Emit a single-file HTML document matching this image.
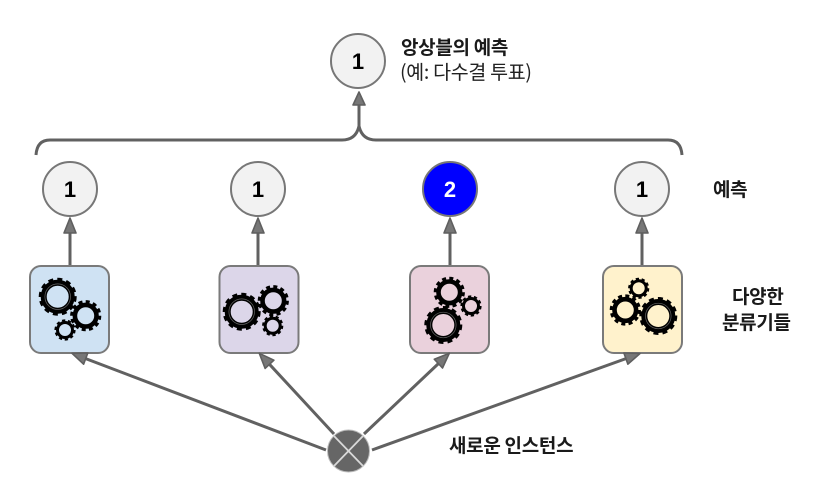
<!DOCTYPE html>
<html><head><meta charset="utf-8"><style>
html,body{margin:0;padding:0;background:#fff}
svg{display:block}
text{font-family:"Liberation Sans","Noto Sans CJK KR",sans-serif}
.k{font-family:"Noto Sans CJK KR","Liberation Sans",sans-serif;font-weight:700;font-size:19px;fill:#1a1a1a;letter-spacing:-.3px}
.n{font-weight:700;font-size:22px;text-anchor:middle;fill:#000}
.c{fill:#f2f2f2;stroke:#777;stroke-width:2}
.b{stroke:#7a7a7a;stroke-width:2}
.l{stroke:#616161;stroke-width:3;fill:none}
.h{fill:#777;stroke:#5f5f5f;stroke-width:1.6;stroke-linejoin:round}
.g1 .t{fill:none;stroke:#000;stroke-width:5.6}
.r{fill:none;stroke:#000}
</style></head><body>
<svg width="816" height="496" viewBox="0 0 816 496" xmlns="http://www.w3.org/2000/svg">
<defs>
<g id="gb" class="g1"><circle class="t" r="16.2" pathLength="24" stroke-dasharray="1.1 .9"/><circle class="r" r="14" stroke-width="6"/><circle r="12.8" fill="none" stroke="#666" stroke-width=".7"/></g>
<g id="gm" class="g1"><circle class="t" r="12.8" pathLength="24" stroke-dasharray="1.1 .9"/><circle class="r" r="10.8" stroke-width="4.6"/></g>
<g id="gs" class="g1"><circle class="t" r="8.8" pathLength="20" stroke-dasharray="1.1 .9" style="stroke-width:3.6"/><circle class="r" r="7.5" stroke-width="3"/></g>
</defs>

<path class="l" d="M36 155Q37 140 50 140H342Q356 140 359 126Q362 140 376 140H668Q681 140 682 155"/>
<path class="l" d="M359 126V105M70 266V233M258 266V233M450 266V233M642 266V233"/>
<path class="h" d="M359 92L365 105H353ZM70 218L76 233H64ZM258 218L264 233H252ZM450 218L456 233H444ZM642 218L648 233H636Z"/>

<circle class="c" cx="358" cy="61" r="27"/>
<circle class="c" cx="70" cy="189" r="27"/>
<circle class="c" cx="258" cy="189" r="27"/>
<circle cx="450" cy="189" r="27" fill="#0000ff" stroke="#777" stroke-width="2"/>
<circle class="c" cx="642" cy="189" r="27"/>
<text class="n" x="358" y="69">1</text>
<text class="n" x="70" y="197">1</text>
<text class="n" x="258" y="197">1</text>
<text class="n" x="450" y="197" style="fill:#fff">2</text>
<text class="n" x="642" y="197">1</text>

<rect class="b" x="30" y="266" width="79" height="87" rx="11" fill="#cfe2f3"/>
<rect class="b" x="219.5" y="266" width="79" height="87" rx="11" fill="#dcd6e9"/>
<rect class="b" x="410" y="266" width="79" height="87" rx="11" fill="#ead1dc"/>
<rect class="b" x="603" y="266" width="79" height="87" rx="11" fill="#fff2cc"/>

<use href="#gb" x="57.7" y="296.7"/><use href="#gm" x="85.7" y="315.7"/><use href="#gs" x="65" y="330"/>
<use href="#gb" x="241.7" y="311.7"/><use href="#gm" x="273.3" y="300.7"/><use href="#gs" x="272.7" y="325.7"/>
<use href="#gb" x="443.3" y="325"/><use href="#gm" x="449.3" y="292.3"/><use href="#gs" x="471" y="306"/>
<use href="#gb" x="658.3" y="316"/><use href="#gm" x="625.3" y="310"/><use href="#gs" x="638.7" y="288.3"/>

<path class="l" d="M326 450L85.7 358.600M334 434L269.500 364.300M364 434L438.400 363.600M372 450L625.900 358.600"/>
<path class="h" d="M72 353.300L87.800 353L83.600 364.200ZM259.300 353.300L273.900 360.200L265.100 368.400ZM449.300 353.300L442.500 368L434.300 359.200ZM640 353.500L627.900 364.200L623.900 353Z"/>

<circle cx="348.500" cy="451" r="21" fill="#666" stroke="#bbb" stroke-width="1"/>
<path d="M334 436L363 466M363 436L334 466" stroke="#d9d9d9" stroke-width="1.8"/>

<text class="k" x="401" y="54">앙상블의 예측</text>
<text class="k" x="400" y="79" style="font-weight:400;font-size:19.5px;fill:#222">(예: 다수결 투표)</text>
<text class="k" x="713" y="196">예측</text>
<text class="k" x="732" y="303">다양한</text>
<text class="k" x="722" y="329">분류기들</text>
<text class="k" x="449" y="452">새로운 인스턴스</text>
</svg>
</body></html>
